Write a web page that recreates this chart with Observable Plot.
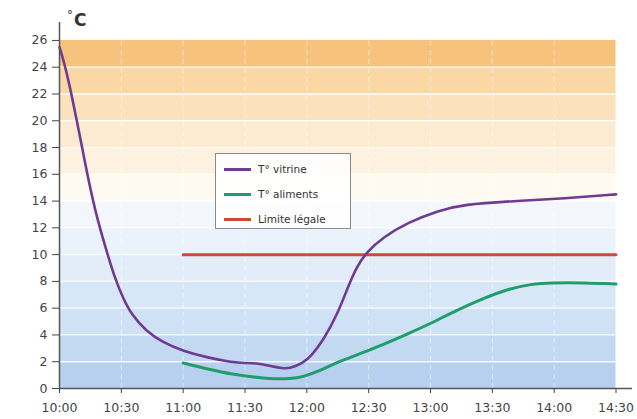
<!DOCTYPE html>
<html>
<head>
<meta charset="utf-8">
<script src="https://cdn.jsdelivr.net/npm/d3@7"></script>
<script src="https://cdn.jsdelivr.net/npm/@observablehq/plot@0.6"></script>
<style>
  html, body { margin: 0; padding: 0; background: #fff; }
  #wrap { position: relative; width: 637px; height: 419px; font-family: "DejaVu Sans", sans-serif; }
  #unit { position: absolute; left: 67px; top: 8px; font-size: 17px; font-weight: bold; color: #333; }
  #unit sup { font-size: 12px; position: relative; top: 0px; margin-right: 1px; font-weight: normal; }
  #legend { position: absolute; left: 215px; top: 153px; width: 136px; height: 76px;
            border: 1px solid #8a8a8a; background: rgba(255,255,255,0.85); box-sizing: border-box; }
  .row { position: absolute; left: 8px; height: 14px; display: flex; align-items: center; font-size: 10.5px; color: #333; }
  .sw { width: 27px; height: 3px; margin-right: 7px; }
</style>
</head>
<body>
<div id="wrap">
  <div id="chart"></div>
  <div id="unit"><sup>°</sup>C</div>
  <div id="legend"></div>
</div>
<script>
// ---- data ----
const xTickLabels = ["10:00","10:30","11:00","11:30","12:00","12:30","13:00","13:30","14:00","14:30"];
const yTicks = [0,2,4,6,8,10,12,14,16,18,20,22,24,26];

const vitrineTimes  = ["10:00","10:02","10:05","10:08","10:11","10:14","10:18","10:22","10:27","10:31","10:35","10:42","10:50","11:00","11:12","11:24","11:30","11:35","11:42","11:48","11:52","11:58","12:02","12:08","12:15","12:20","12:24","12:29","12:37","12:49","13:04","13:16","13:40","14:05","14:30"];
const vitrineValues = [25.5, 24.5, 22.6, 20.3, 18.0, 15.6, 12.85, 10.7, 8.15, 6.7, 5.5, 4.3, 3.45, 2.8, 2.3, 1.95, 1.9, 1.9, 1.7, 1.5, 1.5, 1.9, 2.4, 3.6, 5.6, 7.6, 9.05, 10.2, 11.3, 12.4, 13.3, 13.75, 14.0, 14.2, 14.5];

const alimentsTimes  = ["11:00","11:12","11:24","11:36","11:44","11:52","11:58","12:06","12:16","12:32","12:50","13:00","13:12","13:26","13:38","13:49","13:58","14:15","14:30"];
const alimentsValues = [1.9, 1.45, 1.05, 0.82, 0.72, 0.72, 0.85, 1.3, 2.05, 2.95, 4.15, 4.85, 5.8, 6.75, 7.45, 7.8, 7.9, 7.9, 7.8];

const limiteTimes  = ["11:00","14:30"];
const limiteValue  = 10;

const seriesNames = ["T° vitrine", "T° aliments", "Limite légale"];

// ---- styles ----
const seriesColors = ["#6f3b92", "#1f9d6b", "#d2473a"];
const bandColors = ["#b7d0ef","#c3d9f2","#cee1f5","#d8e7f7","#e2edf9","#eaf2fb","#f3f7fd",
                    "#fefaf1","#fdf2e0","#fcebd0","#fbe2bc","#f9d8a6","#f7c27c"];

// ---- helpers ----
const toMin = s => { const [h, m] = s.split(":").map(Number); return (h - 10) * 60 + m; };
const fmt = m => `${Math.floor(10 + m / 60)}:${String(m % 60).padStart(2, "0")}`;

const xTicks = xTickLabels.map(toMin);
const xStart = xTicks[0], xEnd = xTicks[xTicks.length - 1];

const vitrine = vitrineTimes.map((t, i) => ({t: toMin(t), v: vitrineValues[i]}));
const aliments = alimentsTimes.map((t, i) => ({t: toMin(t), v: alimentsValues[i]}));
const limite = limiteTimes.map(t => ({t: toMin(t), v: limiteValue}));

const bands = yTicks.slice(0, -1).map((lo, i) => ({lo, hi: yTicks[i + 1], x1: xStart, x2: xEnd, fill: bandColors[i]}));

const chart = Plot.plot({
  width: 637,
  height: 419,
  marginLeft: 59,
  marginRight: 5,
  marginTop: 22,
  marginBottom: 31,
  style: {fontFamily: "DejaVu Sans, sans-serif", fontSize: "12px", color: "#444", background: "transparent"},
  x: {domain: [xStart, xEnd + 8]},
  y: {domain: [0, 27.34]},
  color: {type: "identity"},
  marks: [
    Plot.rect(bands, {x1: "x1", x2: "x2", y1: "lo", y2: "hi", fill: "fill"}),
    Plot.ruleY(yTicks.slice(1, -1), {x1: xStart, x2: xEnd, stroke: "white", strokeWidth: 1.3, strokeOpacity: 0.85}),
    Plot.ruleX(xTicks.slice(1, -1), {y1: 0, y2: 26, stroke: "white", strokeOpacity: 0.55, strokeDasharray: "5,4"}),
    Plot.line(limite, {x: "t", y: "v", stroke: seriesColors[2], strokeWidth: 3}),
    Plot.line(aliments, {x: "t", y: "v", stroke: seriesColors[1], strokeWidth: 3, curve: "basis"}),
    Plot.line(vitrine, {x: "t", y: "v", stroke: seriesColors[0], strokeWidth: 2.6, curve: "basis"}),
    Plot.ruleX([xStart], {stroke: "#555", strokeWidth: 1.5}),
    Plot.ruleY([0], {stroke: "#555", strokeWidth: 1.5}),
    Plot.axisX({ticks: xTicks, tickFormat: fmt, tickSize: 5, tickPadding: 10, label: null, fontSize: 12.5}),
    Plot.axisY({ticks: yTicks, tickSize: 7, tickPadding: 5, label: null, fontSize: 12.5})
  ]
});
document.getElementById("chart").appendChild(chart);

const legend = document.getElementById("legend");
seriesNames.forEach((name, i) => {
  const row = document.createElement("div");
  row.className = "row";
  row.style.top = (8 + i * 25) + "px";
  const sw = document.createElement("div");
  sw.className = "sw";
  sw.style.background = seriesColors[i];
  const label = document.createElement("span");
  label.textContent = name;
  row.appendChild(sw);
  row.appendChild(label);
  legend.appendChild(row);
});
</script>
</body>
</html>
